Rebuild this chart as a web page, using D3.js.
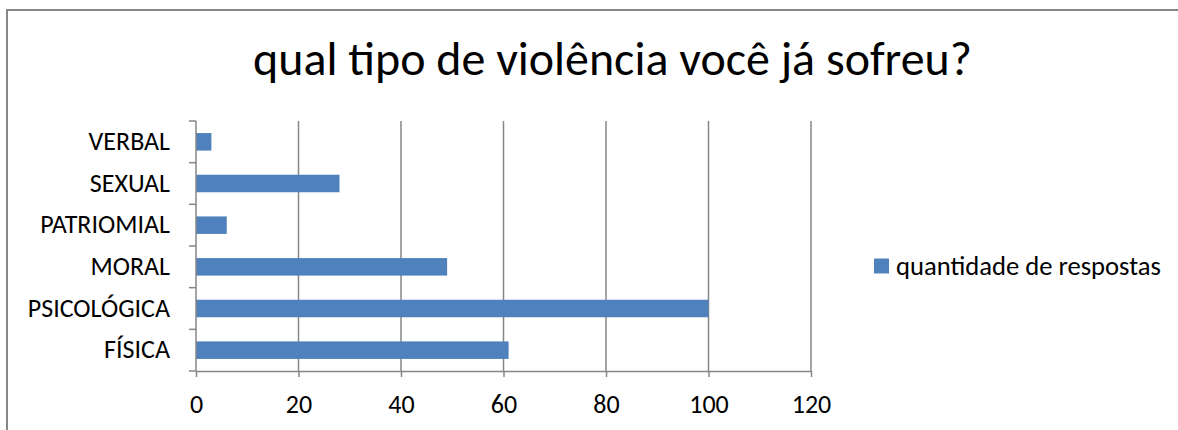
<!DOCTYPE html>
<html><head><meta charset="utf-8">
<script src="https://cdn.jsdelivr.net/npm/d3@7"></script>
<style>
html,body{margin:0;padding:0;background:#fff;}
svg text{font-family:"Carlito","Calibri","Open Sans",sans-serif;fill:#000;}
</style></head>
<body><svg id="c" width="1178" height="430"></svg>
<script>
const categories = ["FÍSICA","PSICOLÓGICA","MORAL","PATRIOMIAL","SEXUAL","VERBAL"];
const values = [61,100,49,6,28,3];
const xTicks = [0,20,40,60,80,100,120];
const seriesName = "quantidade de respostas";
const title = "qual tipo de violência você já sofreu?";

const svg = d3.select("#c");
const gray = "#868686", barColor = "#4F81BD";
const pLeft = 196, pRight = 811, pTop = 121, pBottom = 371;

function fit(sel, target){
  const w = sel.node().getComputedTextLength();
  const fs = parseFloat(sel.attr("font-size"));
  sel.attr("font-size", (fs*target/w).toFixed(2));
}

// border
svg.append("rect").attr("x",7).attr("y",10).attr("width",1200).attr("height",500)
  .attr("fill","none").attr("stroke",gray).attr("stroke-width",2);

// title
const t = svg.append("text").attr("x",612.5).attr("y",75).attr("text-anchor","middle")
  .attr("font-size",32).text(title);
fit(t, 719);

const x = d3.scaleLinear().domain([0,120]).range([pLeft,pRight]);
const y = d3.scaleBand().domain(categories.slice().reverse()).range([pTop,pBottom])
  .paddingInner(0.58).paddingOuter(0.29);

// gridlines
svg.append("g").selectAll("line").data(xTicks.filter(d=>d>0)).join("line")
  .attr("x1",d=>x(d)).attr("x2",d=>x(d)).attr("y1",pTop).attr("y2",pBottom)
  .attr("stroke",gray).attr("stroke-width",1.5);

// bars
svg.append("g").selectAll("rect").data(categories).join("rect")
  .attr("x",x(0)).attr("y",d=>y(d)).attr("height",y.bandwidth())
  .attr("width",(d,i)=>x(values[i])-x(0)).attr("fill",barColor);

// x axis
const xa = svg.append("g").attr("transform",`translate(0,${pBottom})`)
  .call(d3.axisBottom(x).tickValues(xTicks).tickSize(6).tickPadding(10).tickSizeOuter(0));
xa.select(".domain").attr("stroke",gray).attr("stroke-width",1.5);
xa.selectAll(".tick line").attr("stroke",gray).attr("stroke-width",1.5);
xa.selectAll(".tick text").attr("font-size",26).attr("font-family",null).attr("dy","0").attr("y",42);

// y axis: line, ticks at band boundaries
const step = y.step();
const bounds = d3.range(categories.length+1).map(i=>pTop+i*step);
svg.append("line").attr("x1",pLeft).attr("x2",pLeft).attr("y1",pTop).attr("y2",pBottom)
  .attr("stroke",gray).attr("stroke-width",1.5);
svg.append("g").selectAll("line").data(bounds).join("line")
  .attr("x1",pLeft-7).attr("x2",pLeft).attr("y1",d=>d).attr("y2",d=>d)
  .attr("stroke",gray).attr("stroke-width",1.5);
svg.append("g").selectAll("text").data(categories).join("text")
  .attr("x",170).attr("y",d=>y(d)+y.bandwidth()/2).attr("dy","0.32em")
  .attr("text-anchor","end").attr("font-size",26).text(d=>d);

// legend
svg.append("rect").attr("x",874).attr("y",258.5).attr("width",15).attr("height",15).attr("fill",barColor);
const lt = svg.append("text").attr("x",896).attr("y",266).attr("dy","0.35em").attr("font-size",20).text(seriesName);
fit(lt, 265);
</script></body></html>
